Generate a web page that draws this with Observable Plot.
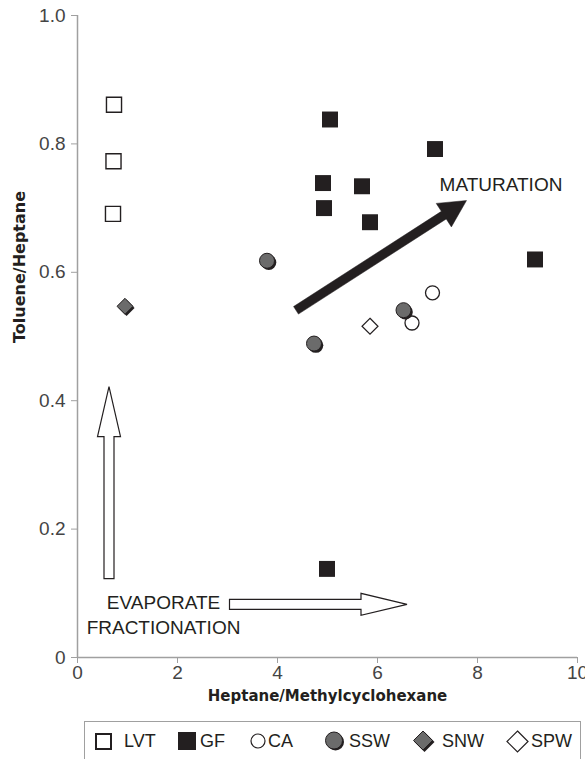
<!DOCTYPE html>
<html>
<head>
<meta charset="utf-8">
<script src="https://cdn.jsdelivr.net/npm/d3@7"></script>
<script src="https://cdn.jsdelivr.net/npm/@observablehq/plot@0.6"></script>
<style>
  html, body { margin: 0; padding: 0; background: #fff; }
  #chart { width: 585px; }
  #legend {
    margin-left: 84px; width: 497px; height: 38px; box-sizing: border-box;
    border: 1.5px solid #a0a0a0; border-bottom: none;
    position: relative;
    font-family: "Liberation Sans", sans-serif;
    font-size: 18px; color: #231f20;
  }
  .item { position: absolute; top: 0; height: 38px; display: flex; align-items: center; }
  .item svg { display: block; }
</style>
</head>
<body>
<div id="chart"></div>
<script>
// ---- data ----
const seriesNames = ["LVT", "GF", "CA", "SSW", "SNW", "SPW"];

const lvtX = [0.73, 0.72, 0.71];
const lvtY = [0.861, 0.773, 0.691];

const gfX = [5.05, 7.15, 4.91, 5.69, 4.93, 5.85, 9.15, 4.99];
const gfY = [0.838, 0.792, 0.739, 0.734, 0.700, 0.678, 0.620, 0.138];

const caX = [7.10, 6.69];
const caY = [0.568, 0.521];

const sswX = [3.79, 6.52, 4.73];
const sswY = [0.618, 0.541, 0.489];

const snwX = [0.95];
const snwY = [0.547];

const spwX = [5.85];
const spwY = [0.516];

const xTicks = [0, 2, 4, 6, 8, 10];
const xTickLabels = ["0", "2", "4", "6", "8", "10"];
const yTicks = [0, 0.2, 0.4, 0.6, 0.8, 1.0];
const yTickLabels = ["0", "0.2", "0.4", "0.6", "0.8", "1.0"];

const xTitle = "Heptane/Methylcyclohexane";
const yTitle = "Toluene/Heptane";
const yTitleAt = 0.49; // vertical centre of the y title, in y units

// annotation arrows (data units): maturation, evaporate vertical, evaporate horizontal
const arrowNames = ["maturation", "evapUp", "evapRight"];
const arrowX1 = [4.38, 0.64, 3.05];
const arrowY1 = [0.540, 0.122, 0.082];
const arrowX2 = [7.79, 0.64, 6.60];
const arrowY2 = [0.711, 0.421, 0.082];

const noteTexts = ["MATURATION", "EVAPORATE\nFRACTIONATION"];
const noteX = [8.47, 1.72];
const noteY = [0.739, 0.068];

// ---- build tables ----
const rows = (xs, ys) => xs.map((x, i) => ({x, y: ys[i]}));
const lvt = rows(lvtX, lvtY), gf = rows(gfX, gfY), ca = rows(caX, caY);
const ssw = rows(sswX, sswY), snw = rows(snwX, snwY), spw = rows(spwX, spwY);
const arrows = arrowNames.map((n, i) => ({n, x1: arrowX1[i], y1: arrowY1[i], x2: arrowX2[i], y2: arrowY2[i]}));
const notes = noteTexts.map((t, i) => ({t, x: noteX[i], y: noteY[i]}));

const INK = "#231f20";
const GRAY = "#6b6b6b";
const AXIS = "#a0a0a0";

// arrow style (pixels)
const arrowStyle = {
  maturation: {sw: 4.5, hw: 14, hl: 27, fill: INK, stroke: INK, strokeWidth: 0.5},
  evapUp: {sw: 5, hw: 11.5, hl: 50, fill: "white", stroke: INK, strokeWidth: 1.2},
  evapRight: {sw: 5, hw: 11, hl: 46, fill: "white", stroke: INK, strokeWidth: 1.2}
};

function blockArrows(index, scales) {
  const g = d3.create("svg:g");
  for (const a of arrows) {
    const s = arrowStyle[a.n];
    const x0 = scales.x(a.x1), y0 = scales.y(a.y1);
    const x1 = scales.x(a.x2), y1 = scales.y(a.y2);
    const L = Math.hypot(x1 - x0, y1 - y0);
    const ux = (x1 - x0) / L, uy = (y1 - y0) / L;
    const nx = -uy, ny = ux;
    const bx = x1 - ux * s.hl, by = y1 - uy * s.hl;
    const pts = [
      [x0 + nx * s.sw, y0 + ny * s.sw],
      [bx + nx * s.sw, by + ny * s.sw],
      [bx + nx * s.hw, by + ny * s.hw],
      [x1, y1],
      [bx - nx * s.hw, by - ny * s.hw],
      [bx - nx * s.sw, by - ny * s.sw],
      [x0 - nx * s.sw, y0 - ny * s.sw]
    ];
    g.append("polygon")
      .attr("points", pts.map(p => p.join(",")).join(" "))
      .attr("fill", s.fill)
      .attr("stroke", s.stroke)
      .attr("stroke-width", s.strokeWidth)
      .attr("stroke-linejoin", "miter");
  }
  return g.node();
}

const chart = Plot.plot({
  width: 585,
  height: 718,
  marginLeft: 77,
  marginRight: 8,
  marginTop: 15,
  marginBottom: 61,
  style: {fontFamily: "'Liberation Sans', sans-serif", background: "white", overflow: "visible"},
  x: {domain: [0, 10]},
  y: {domain: [0, 1]},
  marks: [
    Plot.ruleY([0], {stroke: AXIS, strokeWidth: 1.5}),
    Plot.ruleX([0], {stroke: AXIS, strokeWidth: 1.5}),
    Plot.axisX(xTicks, {tickSize: 6, tickPadding: 2, stroke: AXIS, fill: "#444", fontSize: 19,
      tickFormat: d => xTickLabels[xTicks.indexOf(d)], label: null}),
    Plot.axisY(yTicks, {tickSize: 6, tickPadding: 6, stroke: AXIS, fill: "#444", fontSize: 19,
      tickFormat: d => yTickLabels[yTicks.indexOf(d)], label: null}),
    Plot.text([xTitle], {frameAnchor: "bottom", dy: 43, fontSize: 15, fontWeight: "bold",
      fontFamily: "'DejaVu Sans', sans-serif", fill: INK, text: d => d}),
    Plot.text([yTitle], {frameAnchor: "left", y: () => yTitleAt, dx: -58, rotate: -90, fontSize: 16, fontWeight: "bold",
      fontFamily: "'DejaVu Sans', sans-serif", fill: INK, text: d => d}),
    blockArrows,
    Plot.text(notes, {x: "x", y: "y", text: "t", fontSize: 19, lineHeight: 1.3,
      fontFamily: "'Liberation Sans', sans-serif", fill: INK}),
    Plot.dot(lvt, {x: "x", y: "y", symbol: "square", r: 8.5, fill: "white", stroke: INK, strokeWidth: 1.4}),
    Plot.dot(gf, {x: "x", y: "y", symbol: "square", r: 9, fill: INK}),
    Plot.dot(ca, {x: "x", y: "y", r: 7, fill: "white", stroke: INK, strokeWidth: 1.3}),
    Plot.dot(ssw, {x: "x", y: "y", r: 7.5, fill: INK, dx: 1.8, dy: 1.8}),
    Plot.dot(ssw, {x: "x", y: "y", r: 7.5, fill: GRAY, stroke: INK, strokeWidth: 1}),
    Plot.dot(snw, {x: "x", y: "y", symbol: "diamond2", r: 7.2, fill: INK, dx: 1.6, dy: 1.6}),
    Plot.dot(snw, {x: "x", y: "y", symbol: "diamond2", r: 7.2, fill: GRAY, stroke: INK, strokeWidth: 1}),
    Plot.dot(spw, {x: "x", y: "y", symbol: "diamond2", r: 7.2, fill: "white", stroke: INK, strokeWidth: 1.2})
  ]
});
document.getElementById("chart").appendChild(chart);

// ---- legend (HTML below the plot) ----
const legendLeft = [10, 93, 165, 239, 328, 421];
const swatch = {
  LVT: `<svg width="17" height="17"><rect x="1" y="1" width="15" height="15" fill="white" stroke="${INK}" stroke-width="2"/></svg>`,
  GF: `<svg width="18" height="18"><rect x="0" y="0" width="18" height="18" fill="${INK}"/></svg>`,
  CA: `<svg width="16" height="16"><circle cx="8" cy="8" r="7" fill="white" stroke="${INK}" stroke-width="1.2"/></svg>`,
  SSW: `<svg width="22" height="20"><circle cx="11.5" cy="11" r="8.5" fill="${INK}"/><circle cx="10" cy="9.5" r="8.5" fill="${GRAY}" stroke="${INK}" stroke-width="1"/></svg>`,
  SNW: `<svg width="23" height="22"><path d="M11.5,2 L21.5,12 L11.5,22 L1.5,12Z" fill="${INK}"/><path d="M10,1 L19.5,10.5 L10,20 L0.5,10.5Z" fill="${GRAY}" stroke="${INK}" stroke-width="1"/></svg>`,
  SPW: `<svg width="23" height="23"><path d="M11.5,1 L22,11.5 L11.5,22 L1,11.5Z" fill="white" stroke="${INK}" stroke-width="1.2"/></svg>`
};
const swatchGap = [12, 4, 2, 3, 6, 2];
const legend = document.createElement("div");
legend.id = "legend";
legend.style.marginTop = "3px";
seriesNames.forEach((n, i) => {
  const it = document.createElement("div");
  it.className = "item";
  it.style.left = legendLeft[i] + "px";
  it.innerHTML = swatch[n] + `<span style="margin-left:${swatchGap[i]}px">${n}</span>`;
  legend.appendChild(it);
});
document.body.appendChild(legend);
</script>
</body>
</html>
